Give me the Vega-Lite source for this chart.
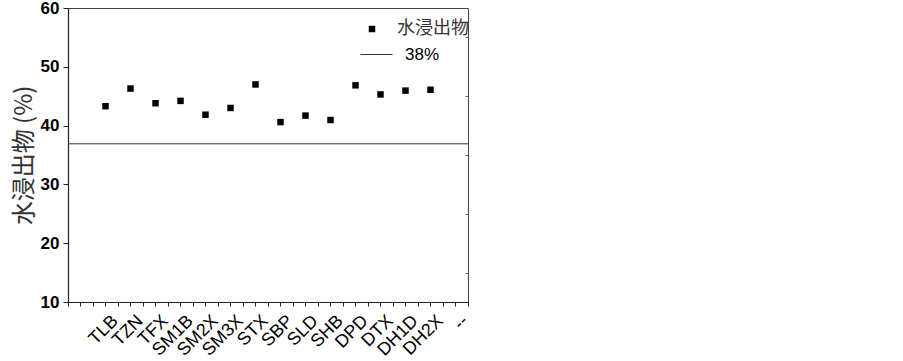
{
  "$schema": "https://vega.github.io/schema/vega-lite/v6.json",
  "width": 400,
  "height": 294,
  "autosize": "none",
  "padding": {"left": 68, "top": 8, "right": 435, "bottom": 59},
  "background": "white",
  "config": {"view": {"stroke": "#444", "strokeWidth": 1}, "font": "Liberation Sans"},
  "layer": [
    {
      "data": {"values": [
        {"cat": "TLB", "value": 43.3, "series": "水浸出物"},
        {"cat": "TZN", "value": 46.3, "series": "水浸出物"},
        {"cat": "TFX", "value": 43.8, "series": "水浸出物"},
        {"cat": "SM1B", "value": 44.2, "series": "水浸出物"},
        {"cat": "SM2X", "value": 41.85, "series": "水浸出物"},
        {"cat": "SM3X", "value": 43.0, "series": "水浸出物"},
        {"cat": "STX", "value": 47.0, "series": "水浸出物"},
        {"cat": "SBP", "value": 40.6, "series": "水浸出物"},
        {"cat": "SLD", "value": 41.7, "series": "水浸出物"},
        {"cat": "SHB", "value": 40.95, "series": "水浸出物"},
        {"cat": "DPD", "value": 46.85, "series": "水浸出物"},
        {"cat": "DTX", "value": 45.3, "series": "水浸出物"},
        {"cat": "DH1D", "value": 45.95, "series": "水浸出物"},
        {"cat": "DH2X", "value": 46.1, "series": "水浸出物"}
      ]},
      "layer": [
        {
          "mark": {"type": "point", "shape": "square", "filled": true, "size": 42, "opacity": 1, "color": "black"},
          "encoding": {
            "x": {
              "field": "cat", "type": "nominal", "sort": null,
              "scale": {"type": "band", "domain": [" ", "TLB", "TZN", "TFX", "SM1B", "SM2X", "SM3X", "STX", "SBP", "SLD", "SHB", "DPD", "DTX", "DH1D", "DH2X", "--"], "paddingInner": 0, "paddingOuter": 0},
              "axis": {
                "orient": "bottom", "title": null, "domainColor": "#222", "domainWidth": 1.2,
                "tickColor": "#222", "tickSize": 4, "tickBand": "center",
                "labelAngle": -45, "labelAlign": "right", "labelBaseline": "middle",
                "labelFont": "Liberation Sans", "labelFontSize": 18, "labelColor": "black",
                "labelOffset": 10, "labelPadding": 12
              }
            },
            "y": {
              "field": "value", "type": "quantitative",
              "scale": {"domain": [10, 60], "nice": false, "zero": false},
              "axis": {
                "orient": "left", "values": [10, 15, 20, 25, 30, 35, 40, 45, 50, 55, 60],
                "labelExpr": "datum.value % 10 === 0 ? datum.label : ''",
                "tickSize": {"condition": {"test": "datum.value % 10 === 0", "value": 5}, "value": 3},
                "grid": false, "domainColor": "#222", "domainWidth": 1.2, "tickColor": "#222",
                "labelFont": "Liberation Sans", "labelFontWeight": "bold", "labelFontSize": 17,
                "labelColor": "black", "labelPadding": 4,
                "title": "水浸出物 (%)", "titleFont": "Noto Sans CJK SC", "titleFontSize": 24,
                "titleFontWeight": "normal", "titleColor": "#333", "titlePadding": 4
              }
            },
            "shape": {
              "field": "series", "type": "nominal",
              "scale": {"range": ["square"]},
              "legend": {
                "title": null, "orient": "none", "legendX": 295, "legendY": 12, "padding": 0,
                "symbolSize": 42, "symbolFillColor": "black", "symbolStrokeColor": "black",
                "labelFont": "Noto Sans CJK SC", "labelFontSize": 18, "labelOffset": 16, "labelColor": "#333"
              }
            }
          }
        },
        {
          "mark": {"type": "point", "opacity": 0},
          "encoding": {
            "x": {
              "field": "cat", "type": "nominal", "sort": null,
              "scale": {"type": "band", "domain": [" ", "TLB", "TZN", "TFX", "SM1B", "SM2X", "SM3X", "STX", "SBP", "SLD", "SHB", "DPD", "DTX", "DH1D", "DH2X", "--"], "paddingInner": 0, "paddingOuter": 0},
              "axis": {"orient": "bottom", "title": null, "labels": false, "domain": false, "tickBand": "extent", "tickSize": 4, "tickColor": "#222"}
            },
            "y": {"field": "value", "type": "quantitative"}
          }
        }
      ],
      "resolve": {"axis": {"x": "independent"}}
    },
    {
      "data": {"values": [{"series": "38%", "value": 36.9}]},
      "mark": {"type": "rule", "strokeWidth": 1},
      "encoding": {
        "y": {
          "field": "value", "type": "quantitative",
          "axis": {"orient": "right", "values": [15, 25, 35, 45, 55], "labels": false, "domain": false, "tickSize": -3, "tickColor": "#666", "title": null, "grid": false}
        },
        "color": {
          "field": "series", "type": "nominal",
          "scale": {"range": ["#333"]},
          "legend": {
            "title": null, "orient": "none", "legendX": 292, "legendY": 30, "padding": 0,
            "symbolType": "stroke", "symbolSize": 1024, "symbolStrokeWidth": 1,
            "labelFont": "Liberation Sans", "labelFontSize": 17, "labelOffset": 12, "labelColor": "black"
          }
        }
      }
    }
  ],
  "resolve": {"axis": {"y": "independent"}}
}
